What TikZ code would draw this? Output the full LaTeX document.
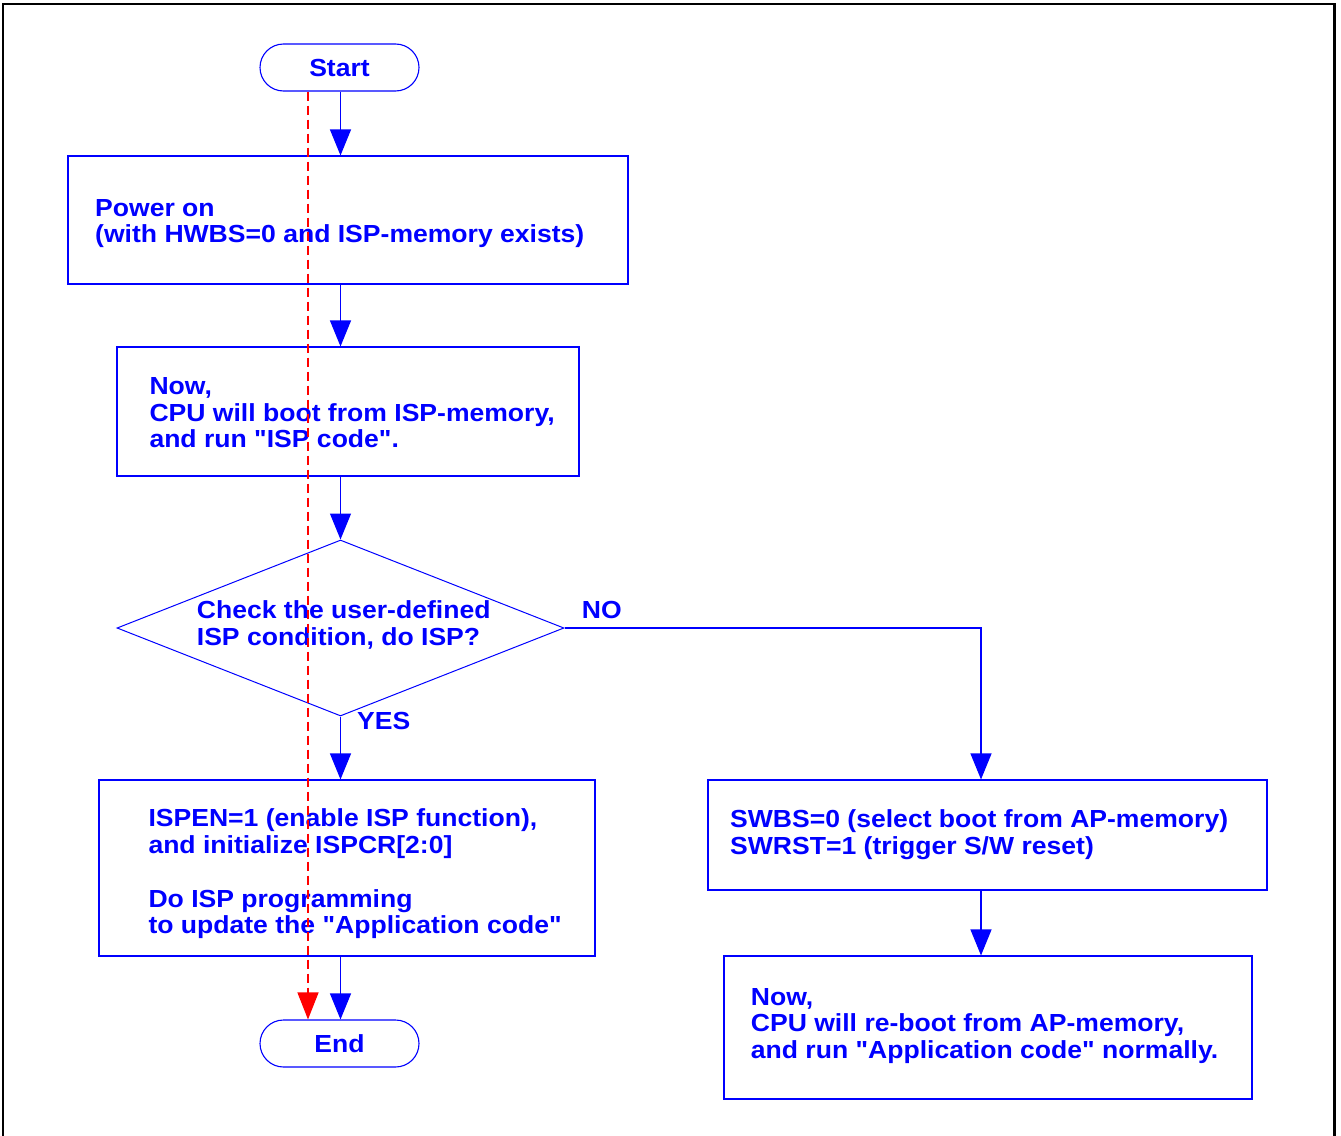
\documentclass[tikz,border=0pt]{standalone}
\usepackage{fontspec}
\setmainfont{Liberation Sans}[FakeStretch=1.075, Ligatures=TeXOff]
\usetikzlibrary{arrows.meta,shapes.geometric}
\definecolor{dashred}{RGB}{255,0,0}
\begin{document}
\begin{tikzpicture}[x=1pt,y=-1pt,
  arr/.style={draw=blue, line width=1.1pt, -{Triangle[length=26pt,width=21pt]}},
  rline/.style={draw=dashred, line width=1.5pt, dash pattern=on 9pt off 5pt},
  rtip/.style={draw=dashred, line width=1.2pt, -{Triangle[length=27pt,width=21pt,fill=dashred]}},
  box/.style={draw=blue, line width=1.1pt, rectangle, inner sep=0pt},
  term/.style={draw=blue, line width=1.1pt, rectangle, rounded corners=23.5pt, minimum width=159pt, minimum height=47pt, inner sep=0pt, text=blue, font=\fontsize{24.7}{26.7}\selectfont\bfseries},
  txt/.style={anchor=north west, inner sep=0pt, align=left, text=blue, font=\fontsize{24.7}{26.7}\selectfont\bfseries},
  lbl/.style={anchor=base west, inner sep=0pt, text=blue, font=\fontsize{24.7}{26.7}\selectfont\bfseries}
]
\useasboundingbox (0,0) rectangle (1341,1135);
\draw[line width=2.5pt] (3,4) rectangle (1334.5,1145);

% spine coordinates
\coordinate (ax) at (340.5,0);
\coordinate (rx) at (308,0);
\coordinate (nx) at (981,0);

% shapes
\node[term] (start) at (339.5,67.5) {Start};
\node[box, minimum width=560pt, minimum height=128pt] (b1) at (348,220) {};
\node[box, minimum width=462pt, minimum height=129pt] (b2) at (348,411.5) {};
\node[draw=blue, line width=1pt, diamond, minimum width=447pt, minimum height=176pt, inner sep=0pt] (dia) at (340.5,628) {};
\node[box, minimum width=496pt, minimum height=176pt] (b3) at (347,868) {};
\node[term] (end) at (339.5,1043.5) {End};
\node[box, minimum width=559pt, minimum height=110pt] (b4) at (987.5,835) {};
\node[box, minimum width=528pt, minimum height=143pt] (b5) at (988,1027.5) {};

% texts
\node[txt] (t1) at (95,197.3) {\strut Power on\\\strut (with HWBS=0 and ISP-memory exists)};
\node[txt] (t2) at (149.3,375.6) {\strut Now,\\\strut CPU will boot from ISP-memory,\\\strut and run "ISP code".};
\node[txt] (td) at (196.7,599.6) {\strut Check the user-defined\\\strut ISP condition, do ISP?};
\node[txt] (t3) at (148.3,808) {\strut ISPEN=1 (enable ISP function),\\\strut and initialize ISPCR[2:0]\\\strut\\\strut Do ISP programming\\\strut to update the "Application code"};
\node[txt] (t4) at (730,808.6) {\strut SWBS=0 (select boot from AP-memory)\\\strut SWRST=1 (trigger S/W reset)};
\node[txt] (t5) at (750.7,986.3) {\strut Now,\\\strut CPU will re-boot from AP-memory,\\\strut and run "Application code" normally.};
\node[lbl] (no) at (581.7,618.3) {NO};
\node[lbl] (yes) at (357,729.7) {YES};

% connectors
\coordinate (rtop) at (start.south -| rx);
\coordinate (rbot) at (end.north -| rx);
\draw[rline] (rtop) -- ([yshift=27pt]rbot);
\draw[rtip] ([yshift=27pt]rbot) -- (rbot);
\draw[arr] (start.south -| ax) -- (b1.north -| ax);
\draw[arr] (b1.south -| ax) -- (b2.north -| ax);
\draw[arr] (b2.south -| ax) -- (dia.north);
\draw[arr] (dia.south) -- (b3.north -| ax);
\draw[arr] (b3.south -| ax) -- (end.north -| ax);
\draw[arr] (dia.east) -| (b4.north -| nx);
\draw[arr] (b4.south -| nx) -- (b5.north -| nx);
\end{tikzpicture}
\end{document}
